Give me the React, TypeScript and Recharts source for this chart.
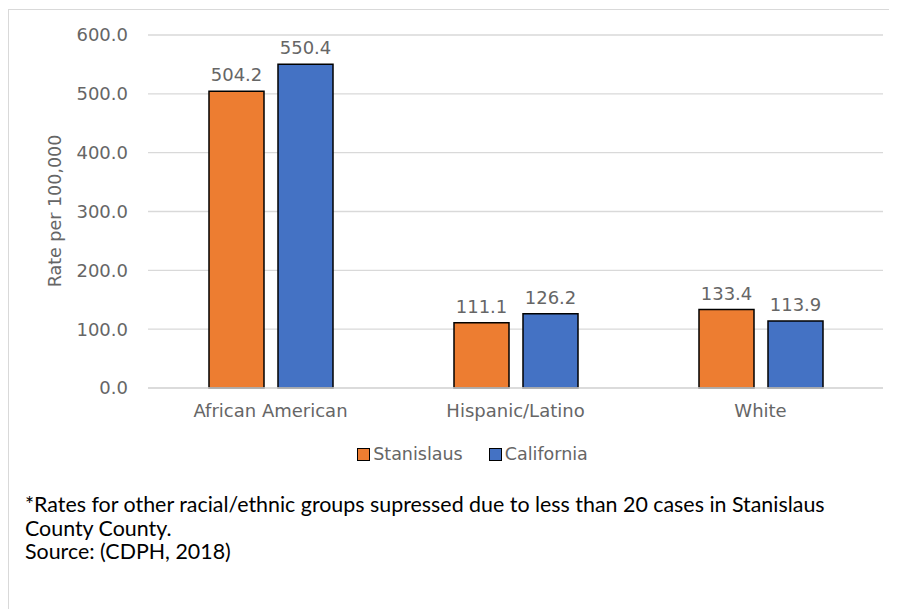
import React from 'react';
import {
  Bar,
  BarChart,
  CartesianGrid,
  LabelList,
  Legend,
  XAxis,
  YAxis,
} from 'recharts';

const groups = ['African American', 'Hispanic/Latino', 'White'];
const stanislaus = [504.2, 111.1, 133.4];
const california = [550.4, 126.2, 113.9];
const yTicks = [0, 100, 200, 300, 400, 500, 600];

const seriesColors = { Stanislaus: '#ED7D31', California: '#4472C4' };

const data = groups.map((name, i) => ({
  name,
  Stanislaus: stanislaus[i],
  California: california[i],
}));

const axisFont = 'DejaVu Sans, sans-serif';
const textGray = '#666666';

const LegendBox = () => (
  <div
    style={{
      height: 52,
      display: 'flex',
      justifyContent: 'center',
      alignItems: 'center',
      gap: 26,
      fontFamily: axisFont,
      fontSize: 17.5,
      color: textGray,
      paddingLeft: 14,
    }}
  >
    {Object.entries(seriesColors).map(([name, color]) => (
      <span key={name} style={{ display: 'flex', alignItems: 'center' }}>
        <span
          style={{
            width: 11,
            height: 11,
            background: color,
            border: '1.5px solid #000',
            marginRight: 3,
          }}
        />
        {name}
      </span>
    ))}
  </div>
);

const YTitle = () => (
  <text
    x={46}
    y={201}
    transform="rotate(-90 46 201)"
    textAnchor="middle"
    dominantBaseline="central"
    fontFamily={axisFont}
    fontSize={17.5}
    fill={textGray}
  >
    Rate per 100,000
  </text>
);

export default function App() {
  return (
    <div
      style={{
        position: 'relative',
        width: 889,
        height: 601,
        marginTop: 1,
        borderTop: '1px solid #d9d9d9',
        borderLeft: '1px solid #d9d9d9',
        boxSizing: 'border-box',
        background: '#fff',
      }}
    >
      <BarChart
        width={888}
        height={470}
        data={data}
        margin={{ top: 25, right: 14, left: 39, bottom: 0 }}
        barSize={55}
        barGap={14}
      >
        <CartesianGrid vertical={false} stroke="#d9d9d9" strokeWidth={1.3} />
        <XAxis
          dataKey="name"
          height={40}
          tickLine={false}
          axisLine={{ stroke: '#d9d9d9', strokeWidth: 1.3 }}
          tickMargin={10}
          tick={{ fontFamily: axisFont, fontSize: 18, fill: textGray }}
        />
        <YAxis
          width={100}
          domain={[0, 600]}
          ticks={yTicks}
          interval={0}
          tickFormatter={(v: number) => v.toFixed(1)}
          tickLine={false}
          axisLine={false}
          tickSize={0}
          tickMargin={20}
          tick={{ fontFamily: axisFont, fontSize: 18, fill: textGray }}
          label={{ content: () => <YTitle /> }}
        />
        <Legend verticalAlign="bottom" height={52} content={() => <LegendBox />} />
        <Bar
          dataKey="Stanislaus"
          fill={seriesColors.Stanislaus}
          stroke="#000"
          strokeWidth={1.5}
          isAnimationActive={false}
        >
          <LabelList
            dataKey="Stanislaus"
            position="top"
            offset={10}
            formatter={(v: number) => v.toFixed(1)}
            style={{ fontFamily: axisFont, fontSize: 18, fill: textGray }}
          />
        </Bar>
        <Bar
          dataKey="California"
          fill={seriesColors.California}
          stroke="#000"
          strokeWidth={1.5}
          isAnimationActive={false}
        >
          <LabelList
            dataKey="California"
            position="top"
            offset={10}
            formatter={(v: number) => v.toFixed(1)}
            style={{ fontFamily: axisFont, fontSize: 18, fill: textGray }}
          />
        </Bar>
      </BarChart>
      <div
        style={{
          position: 'absolute',
          top: 483,
          left: 16,
          fontFamily: 'Lato, sans-serif',
          fontSize: 21.4,
          lineHeight: '23.5px',
          color: '#000',
          width: 860,
        }}
      >
        *Rates for other racial/ethnic groups supressed due to less than 20 cases in Stanislaus
        <br />
        County County.
        <br />
        Source: (CDPH, 2018)
      </div>
    </div>
  );
}
